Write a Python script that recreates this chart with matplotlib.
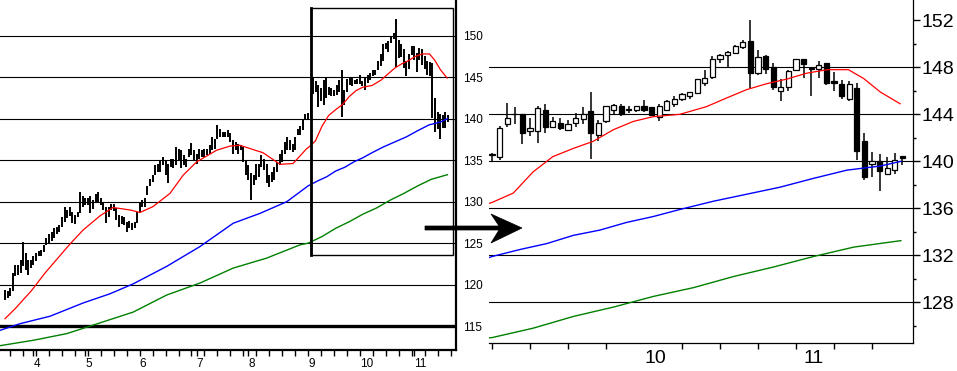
import numpy as np
import matplotlib.pyplot as plt
from matplotlib.patches import Rectangle, Polygon

plt.rcParams['font.family'] = ['Liberation Sans', 'DejaVu Sans']

# daily high / low of the bars before the zoomed window (days 0..116)
early_high = [119.4, 119.2, 119.6, 121.4, 122.4, 122.4, 123.0, 125.1, 123.8, 123.0,
              123.0, 123.4, 123.8, 124.1, 124.2, 124.8, 125.6, 126.1, 126.3, 126.8,
              126.9, 127.2, 128.2, 129.4, 129.0, 129.3, 128.8, 128.4, 128.8, 131.2,
              130.7, 130.5, 130.4, 130.7, 130.2, 130.9, 131.2, 130.5, 129.8, 129.4,
              129.4, 129.7, 129.7, 129.2, 128.4, 128.3, 128.1, 127.6, 127.7, 127.4,
              127.6, 128.8, 129.8, 130.2, 130.4, 131.9, 132.7, 133.2, 134.4, 134.6,
              135.0, 135.4, 135.0, 134.6, 135.1, 135.2, 136.6, 136.3, 136.2, 135.6,
              135.2, 136.4, 137.1, 136.2, 135.8, 136.3, 136.2, 136.4, 136.3, 136.8,
              137.8, 137.6, 139.2, 138.8, 138.4, 138.4, 138.6, 138.3, 137.4, 137.2,
              137.0, 136.8, 136.6, 135.0, 134.4, 133.4, 133.2, 134.6, 134.6, 135.6,
              135.2, 134.6, 133.2, 133.6, 134.2, 134.8, 135.8, 136.2, 137.2, 137.8,
              137.4, 137.0, 137.8, 138.8, 139.1, 139.8, 140.6]
early_low = [118.2, 118.4, 118.6, 119.2, 121.0, 121.2, 121.4, 122.2, 121.8, 121.2,
             122.0, 122.4, 122.8, 123.4, 123.4, 123.9, 124.8, 125.0, 125.3, 125.6,
             126.1, 126.4, 126.9, 127.6, 128.0, 128.3, 127.4, 127.3, 128.2, 128.6,
             129.3, 129.6, 129.6, 128.6, 129.1, 129.9, 130.0, 129.6, 129.0, 127.4,
             128.2, 129.0, 128.9, 127.8, 127.0, 127.3, 127.2, 126.4, 126.8, 126.6,
             126.8, 127.4, 128.8, 129.4, 129.4, 130.8, 131.9, 132.4, 133.2, 133.6,
             133.6, 134.4, 133.2, 132.2, 134.2, 134.0, 134.4, 135.0, 134.0, 134.4,
             134.2, 135.4, 135.6, 135.0, 134.6, 135.2, 135.4, 135.4, 135.6, 135.8,
             136.2, 136.4, 137.6, 137.8, 137.8, 137.8, 137.8, 137.2, 135.8, 136.2,
             135.8, 136.2, 134.8, 133.2, 132.6, 130.2, 132.0, 132.6, 133.0, 134.2,
             133.8, 132.2, 131.8, 132.4, 132.6, 133.6, 134.4, 134.8, 135.8, 136.2,
             136.2, 136.0, 136.2, 138.0, 138.0, 138.6, 139.8]

# candles of the zoomed window (day 117 onward)
zoom_start = 117
zoom_open = [140.55, 140.4, 143.2, 144.0, 144.0, 142.6, 142.6, 144.4, 142.9, 143.3,
             142.7, 143.3, 143.6, 144.3, 142.25, 143.4, 144.4, 144.7, 144.45, 144.35,
             144.75, 144.6, 143.8, 144.4, 144.9, 145.3, 145.6, 145.85, 146.7, 147.2,
             148.7, 149.05, 149.2, 149.7, 150.25, 147.55, 148.95, 148.0, 146.0, 146.3,
             147.8, 148.7, 147.9, 147.9, 148.35, 146.8, 146.55, 145.3, 146.25, 141.75,
             139.8, 140.05, 138.9, 139.3, 140.45]
zoom_high = [140.7, 143.0, 145.0, 144.6, 144.0, 143.7, 144.7, 144.85, 143.8, 143.65,
             143.5, 144.1, 144.65, 145.9, 143.5, 144.75, 144.85, 144.85, 144.7, 144.75,
             145.25, 144.6, 144.85, 145.25, 145.55, 145.85, 145.9, 147.0, 147.75, 149.0,
             149.1, 149.35, 149.9, 150.35, 152.0, 149.5, 149.05, 148.4, 147.0, 147.8,
             148.75, 148.75, 147.9, 148.5, 148.4, 147.6, 146.9, 146.85, 146.65, 142.45,
             140.8, 140.6, 140.4, 140.75, 140.45]
zoom_low = [140.0, 140.1, 142.95, 143.2, 141.45, 142.15, 141.6, 142.45, 142.9, 142.7,
            142.7, 142.9, 143.2, 140.2, 141.7, 143.25, 144.0, 143.9, 144.15, 144.2,
            144.2, 143.9, 143.4, 144.3, 144.65, 145.15, 145.3, 145.85, 146.4, 147.0,
            148.4, 148.05, 149.15, 149.55, 146.2, 147.35, 147.45, 146.1, 145.1, 145.95,
            147.7, 147.1, 145.6, 147.1, 146.5, 146.0, 145.3, 145.15, 140.1, 138.4,
            138.7, 137.5, 138.9, 138.9, 139.65]
zoom_close = [140.55, 142.8, 143.7, 144.0, 142.45, 142.8, 144.55, 142.95, 143.45, 142.85,
              143.15, 143.65, 144.0, 142.4, 143.25, 144.75, 144.8, 144.0, 144.4, 144.75,
              144.4, 143.95, 144.7, 145.1, 145.3, 145.7, 145.9, 147.0, 147.1, 148.7,
              149.05, 149.3, 149.85, 150.15, 147.55, 148.9, 147.9, 146.35, 146.3, 147.65,
              148.7, 148.25, 147.9, 148.2, 146.65, 146.65, 145.6, 146.55, 140.9, 138.7,
              140.0, 139.2, 139.4, 140.1, 140.25]

# moving averages (day, value)
red_day = [0, 3.9, 10.0, 15.7, 25.1, 30.2, 36.7, 41.7, 48.3, 52.1, 57.1, 63.7, 68.8,
           74.0, 81.7, 86.9, 90.7, 94.6, 99.6, 106.2, 111.2, 116.5,
           117.0, 119.8, 122.4, 125.0, 127.7, 130.3, 133.0, 135.6, 138.2, 141.7, 145.2,
           147.9, 150.5, 153.1, 155.8, 158.4, 161.1, 163.9, 165.9, 168.1, 170.7]
red_val = [115.9, 117.1, 119.2, 121.5, 124.9, 126.6, 128.3, 129.3, 129.0, 128.7, 129.4,
           131.0, 133.2, 134.8, 136.2, 136.7, 136.8, 136.4, 135.9, 134.5, 134.6, 136.4,
           136.5, 137.3, 139.1, 140.4, 141.1, 141.7, 142.7, 143.4, 143.8, 144.0, 144.65,
           145.4, 146.1, 146.6, 147.0, 147.5, 147.8, 147.8, 147.05, 145.9, 144.9]
blue_day = [-1.9, 5.8, 17.4, 30.2, 40.5, 49.5, 62.4, 75.3, 88.1, 98.5, 108.8,
            117.0, 120.7, 124.2, 127.7, 131.2, 134.7, 138.2, 141.7, 146.1, 150.5,
            154.9, 159.3, 163.7, 168.1, 170.8]
blue_val = [114.5, 115.3, 116.2, 117.8, 118.9, 120.1, 122.2, 124.6, 127.4, 128.6, 130.0,
            131.9, 132.5, 133.0, 133.7, 134.15, 134.8, 135.3, 135.9, 136.6, 137.2,
            137.8, 138.55, 139.25, 139.6, 140.0]
green_day = [-1.9, 10.9, 23.8, 36.7, 49.5, 62.4, 75.3, 88.1, 101.0, 113.9,
             117.0, 122.4, 127.7, 133.0, 138.2, 143.5, 148.8, 154.0, 159.3, 164.6, 170.8]
green_val = [112.65, 113.3, 114.1, 115.4, 116.7, 118.75, 120.2, 122.0, 123.2, 124.8,
             125.0, 125.8, 126.8, 127.6, 128.5, 129.25, 130.2, 131.0, 131.9, 132.7, 133.25]

left_months = ['4', '5', '6', '7', '8', '9', '10', '11']
left_month_day = [11, 31, 52, 74, 94, 117, 137, 158]
right_months = ['10', '11']
right_month_day = [137, 158]
left_levels = [115, 120, 125, 130, 135, 140, 145, 150]
right_levels = [128, 132, 136, 140, 144, 148, 152]

W, H = 957, 371
fig = plt.figure(figsize=(W / 100, H / 100), dpi=100)

def ma_lines(ax):
    ax.plot(red_day, red_val, color='#ff0000', lw=0.9, zorder=4)
    ax.plot(blue_day, blue_val, color='#0000ff', lw=1.0, zorder=4)
    ax.plot(green_day, green_val, color='#008000', lw=1.0, zorder=4)

# ---- left panel: bar chart ----
ax1 = fig.add_axes([0, 21 / H, 455.7 / W, 350 / H])
ax1.set_xlim(-1.93, 174.0)
ax1.set_ylim(112.13, 154.3)
for s in ['top', 'left']:
    ax1.spines[s].set_visible(False)
ax1.spines['right'].set_linewidth(1.6)
ax1.spines['bottom'].set_linewidth(1.6)

all_high = early_high + zoom_high
all_low = early_low + zoom_low
days = np.arange(len(all_high))
ax1.vlines(days, all_low, all_high, color='black', lw=1.4, zorder=3)

for lv in left_levels:
    ax1.axhline(lv, color='black', lw=2.4 if lv == 115 else 0.8, zorder=1)
ma_lines(ax1)

ax1.yaxis.tick_right()
ax1.set_yticks(left_levels)
ax1.set_yticklabels([str(v) for v in left_levels], fontsize=8.5)
ax1.tick_params(axis='y', length=0, pad=5)
ax1.set_xticks(left_month_day)
ax1.set_xticklabels(left_months, fontsize=8.5)
ax1.set_xticks(np.arange(2, 174, 5), minor=True)
ax1.tick_params(axis='x', which='both', length=4, width=1, pad=1.5)
for lbl in ax1.get_xticklabels():
    lbl.set_ha('left')

ax1.add_patch(Rectangle((118.0, 123.6), 55.1, 29.7, fill=False, ec='black',
                        lw=1.0, zorder=5))
ax1.plot([118.0, 118.0], [123.6, 153.3], color='black', lw=2.0, zorder=5)

# ---- right panel: candlesticks ----
ax2 = fig.add_axes([489 / W, 28 / H, 424 / W, 343 / H])
ax2.set_xlim(116.6, 172.4)
ax2.set_ylim(124.54, 153.73)
for s in ['top', 'left']:
    ax2.spines[s].set_visible(False)
ax2.spines['right'].set_linewidth(0.9)
ax2.spines['bottom'].set_linewidth(0.9)

for lv in right_levels[:-1]:
    ax2.axhline(lv, color='black', lw=0.8, zorder=1)

for i in range(len(zoom_open)):
    x = zoom_start + i
    o, c = zoom_open[i], zoom_close[i]
    ax2.vlines(x, zoom_low[i], zoom_high[i], color='black', lw=1.1, zorder=2)
    lo = min(o, c)
    h = max(abs(c - o), 0.06)
    ax2.add_patch(Rectangle((x - 0.35, lo), 0.7, h,
                            fc='white' if c >= o else 'black',
                            ec='black', lw=0.9, zorder=3))
ma_lines(ax2)

ax2.yaxis.tick_right()
ax2.set_yticks(right_levels)
ax2.set_yticklabels([str(v) for v in right_levels], fontsize=14)
ax2.set_yticks(np.arange(126, 152, 4), minor=True)
ax2.tick_params(axis='y', which='major', length=5, width=1, pad=1)
ax2.tick_params(axis='y', which='minor', length=2.5, width=1)
ax2.set_xticks(right_month_day)
ax2.set_xticklabels(right_months, fontsize=14)
ax2.set_xticks(np.arange(117, 172, 5), minor=True)
ax2.tick_params(axis='x', which='major', length=0, pad=5)
ax2.tick_params(axis='x', which='minor', length=4, width=1)
for lbl in ax2.get_xticklabels():
    lbl.set_ha('left')

# arrow between the panels
pts = [(425, 226), (499, 226), (491, 214), (522, 228), (491, 243), (499, 230), (425, 230)]
fig.add_artist(Polygon([(x / W, 1 - y / H) for x, y in pts], closed=True,
                       transform=fig.transFigure, fc='black', ec='black', lw=0.5))

fig.savefig('out.png', dpi=100)
